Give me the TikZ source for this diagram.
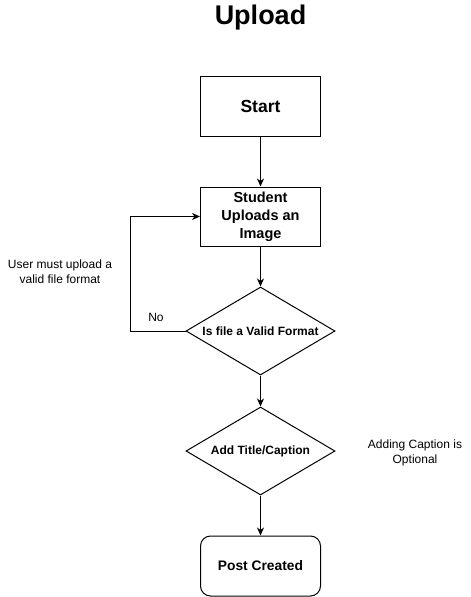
\documentclass[tikz,border=0pt]{standalone}
\usepackage{fontspec}
\setmainfont{Liberation Sans}
\usetikzlibrary{arrows.meta,shapes.geometric}
\begin{document}
\begin{tikzpicture}[x=1pt,y=-1pt,
  box/.style={draw,line width=1pt,minimum width=120pt,align=center,font=\bfseries,inner sep=0pt},
  dia/.style={draw,line width=1pt,diamond,aspect=1.69,minimum width=149pt,minimum height=88pt,inner sep=0pt,font=\bfseries\fontsize{12}{14}\selectfont},
  note/.style={align=center,font=\fontsize{12}{15}\selectfont},
  arr/.style={line width=1pt,-{Stealth[length=8pt,width=7pt,inset=2.5pt]}}]
\useasboundingbox (0,0) rectangle (471,597);
\node[font=\bfseries\fontsize{27}{30}\selectfont] (title) at (260.5,18) {Upload};
\node[box,minimum height=60pt,font=\bfseries\fontsize{17.5}{20}\selectfont] (start) at (260.5,106) {Start};
\node[box,minimum height=59pt,font=\bfseries\fontsize{14.5}{18}\selectfont] (student) at (260.5,216.5) {Student\\Uploads an\\Image};
\node[dia] (valid) at (260.5,331) {Is file a Valid Format};
\node[dia] (caption) at (260.5,451) {Add Title/Caption};
\node[box,rounded corners=10pt,minimum height=60pt,font=\bfseries\fontsize{13.8}{16}\selectfont] (post) at (260.5,566) {Post Created};
\coordinate (c1) at (130,331);
\coordinate (c2) at (130,216.5);
\draw[arr] (start) -- (student);
\draw[arr] (student) -- (valid);
\draw[arr] (valid) -- (caption);
\draw[arr] (caption) -- (post);
\draw[arr] (valid.west) -- (c1) -- (c2) -- (student.west);
\node[note] (no) at (156,317) {No};
\node[note] (usernote) at (60,271.5) {User must upload a\\valid file format};
\node[note] (capnote) at (415,452.5) {Adding Caption is\\Optional};
\end{tikzpicture}
\end{document}
